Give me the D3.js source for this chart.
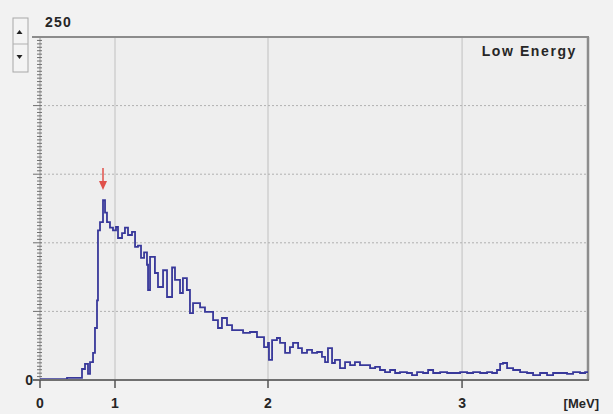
<!DOCTYPE html>
<html><head><meta charset="utf-8">
<script src="https://cdn.jsdelivr.net/npm/d3@7"></script>
<style>
html,body{margin:0;padding:0;background:#f2f2f2;}
svg{display:block;}
text{font-family:"Liberation Sans",Arial,sans-serif;font-weight:bold;fill:#262626;}
</style></head>
<body>
<svg id="c" width="613" height="414"></svg>
<script>
// ---- data (energy in MeV, counts) ----
const energy = [0,0.333,0.36,0.533,0.56,0.6,0.64,0.667,0.707,0.733,0.76,0.773,0.8,0.84,0.867,0.893,0.933,0.973,1.0065,1.0196,1.046,1.065,1.085,1.111,1.131,1.15,1.17,1.19,1.209,1.216,1.229,1.261,1.281,1.314,1.34,1.373,1.392,1.425,1.444,1.47,1.49,1.51,1.556,1.588,1.641,1.673,1.699,1.732,1.765,1.797,1.837,1.882,1.928,1.961,1.974,2.0,2.005,2.021,2.046,2.062,2.088,2.113,2.129,2.155,2.175,2.201,2.227,2.253,2.278,2.294,2.309,2.33,2.345,2.371,2.397,2.423,2.448,2.474,2.5,2.526,2.552,2.577,2.603,2.629,2.655,2.68,2.716,2.742,2.768,2.799,2.825,2.851,2.887,2.923,2.954,2.99,3.026,3.057,3.093,3.129,3.155,3.18,3.196,3.211,3.232,3.263,3.299,3.335,3.366,3.402,3.438,3.469,3.505,3.541,3.572,3.608,3.634,3.649];
const counts = [0.7,0.7,1.5,1.5,8,11.7,4.4,13,19.7,37.9,58,109,115,131,122,115,111,109,111.5,103.5,107,111,105.7,108,97,98,89,93,84,65.6,89.7,78,67.8,80,60.5,82,73,63.4,74.3,65.6,48.8,56,53,49.6,43.7,37.9,45.2,40,36.4,36.4,34.3,35,31.3,31.3,24,27,14.6,29,30.6,27,19.7,24,27,23.3,19.7,21.9,19.7,20.4,16.8,13.1,23.3,12.4,14.6,8.7,13.1,10.9,13.1,10.9,10.9,8.7,9.5,7.3,5.8,7.3,5.1,5.8,5.1,3.6,5.8,5.1,7.3,5.1,5.8,5.1,5.1,5.8,5.1,5.8,5.1,5.8,5.1,7.3,11.7,12.4,8.7,7.3,5.8,5.1,3.6,5.1,3.6,5.1,5.1,4.4,5.8,5.1,5.8,5.8];
const xTicks = [0,1,2,3];
const xTickLabels = ["0","1","2","3"];
const yGrid = [50,100,150,200];
const yMax = 250;
const unitLabel = "[MeV]";
const title = "Low Energy";
const peakEnergy = 0.84;

const svg = d3.select("#c");
// x axis is a non-uniform calibrated energy axis
const x = d3.scaleLinear().domain([0,1,2,3.649]).range([40,115,268,588]);
const y = d3.scaleLinear().domain([0,yMax]).range([380,37]);

// plot background
svg.append("rect").attr("x",x(0)).attr("y",y(yMax)).attr("width",x(3.649)-x(0)).attr("height",y(0)-y(yMax)).attr("fill","#eeeeee");

// vertical grid
svg.selectAll(".vg").data(xTicks.slice(1)).enter().append("line")
  .attr("x1",d=>x(d)).attr("x2",d=>x(d)).attr("y1",y(yMax)).attr("y2",y(0))
  .attr("stroke","#c0c0c0").attr("stroke-width",1);
// horizontal grid (dotted)
svg.selectAll(".hg").data(yGrid).enter().append("line")
  .attr("x1",x(0)).attr("x2",x(3.649)).attr("y1",d=>y(d)).attr("y2",d=>y(d))
  .attr("stroke","#b0b0b0").attr("stroke-width",1).attr("stroke-dasharray","2,2");

// left axis line + minor ticks
svg.append("line").attr("x1",x(0)).attr("x2",x(0)).attr("y1",y(yMax)).attr("y2",y(0)).attr("stroke","#999");
const minor = d3.range(0,yMax+0.01,2.5);
svg.selectAll(".mt").data(minor).enter().append("line")
  .attr("x1",d=> d%50===0 ? x(0)-7 : x(0)-3).attr("x2",x(0)+2)
  .attr("y1",d=>y(d)).attr("y2",d=>y(d)).attr("stroke","#707070").attr("stroke-width",1);

// top & right border
svg.append("line").attr("x1",32).attr("x2",x(3.649)+1).attr("y1",y(yMax)).attr("y2",y(yMax)).attr("stroke","#8c8c8c").attr("stroke-width",2);
svg.append("line").attr("x1",x(3.649)).attr("x2",x(3.649)).attr("y1",y(yMax)).attr("y2",y(0)).attr("stroke","#8c8c8c").attr("stroke-width",2.5);

// spectrum
const pts = energy.map((e,i)=>[e,counts[i]]);
svg.append("path").datum(pts)
  .attr("d",d3.line().x(d=>x(d[0])).y(d=>y(d[1])).curve(d3.curveStepAfter))
  .attr("fill","none").attr("stroke","#38389a").attr("stroke-width",1.8).attr("stroke-linejoin","miter");

// bottom axis
svg.append("line").attr("x1",x(0)-7).attr("x2",x(3.649)+1).attr("y1",y(0)).attr("y2",y(0)).attr("stroke","#707070").attr("stroke-width",2);
svg.selectAll(".xt").data(xTicks).enter().append("line")
  .attr("x1",d=>x(d)).attr("x2",d=>x(d)).attr("y1",y(0)).attr("y2",y(0)+8)
  .attr("stroke","#555").attr("stroke-width",1.5);
svg.selectAll(".xl").data(xTicks).enter().append("text")
  .attr("x",d=>x(d)).attr("y",408).attr("text-anchor","middle").attr("font-size",14)
  .text((d,i)=>xTickLabels[i]);
svg.append("text").attr("x",599).attr("y",408).attr("text-anchor","end").attr("font-size",13).text(unitLabel);

// y labels
svg.append("text").attr("x",33).attr("y",y(0)+5).attr("text-anchor","end").attr("font-size",14).text("0");
svg.append("text").attr("x",45).attr("y",27).attr("font-size",14).attr("letter-spacing",1.2).text(String(yMax));

// title
svg.append("text").attr("x",577).attr("y",56).attr("text-anchor","end").attr("font-size",14).attr("letter-spacing",1.6).text(title);

// spinner control
const sp = svg.append("g");
sp.append("rect").attr("x",13).attr("y",18).attr("width",15).attr("height",54).attr("fill","#f4f4f4").attr("stroke","#a8a8a8");
sp.append("line").attr("x1",13).attr("x2",28).attr("y1",44).attr("y2",44).attr("stroke","#b0b0b0");
sp.append("path").attr("d","M16.5,34 L22.5,34 L19.5,30 Z").attr("fill","#222");
sp.append("path").attr("d","M16.5,55 L22.5,55 L19.5,59 Z").attr("fill","#222");

// red marker arrow above peak
const ax = x(peakEnergy);
svg.append("line").attr("x1",ax).attr("x2",ax).attr("y1",168).attr("y2",184).attr("stroke","#e0504a").attr("stroke-width",1.5);
svg.append("path").attr("d",`M${ax-4},181 L${ax+4},181 L${ax},190 Z`).attr("fill","#e0504a");
</script>
</body></html>
